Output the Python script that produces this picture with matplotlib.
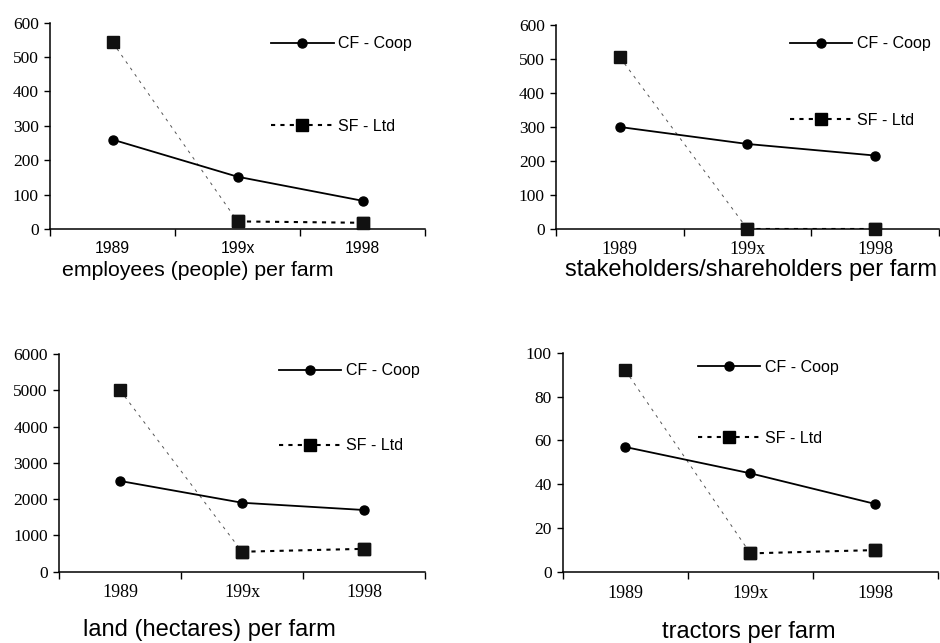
import matplotlib.pyplot as plt
import numpy as np

years = ['1989', '199x', '1998']

employees_cf = [260, 152, 82]
employees_sf = [543, 22, 18]
stakeholders_cf = [300, 250, 216]
stakeholders_sf = [505, 0, 0]
land_cf = [2500, 1900, 1700]
land_sf = [5000, 550, 630]
tractors_cf = [57, 45, 31]
tractors_sf = [92, 8.5, 10]

titles = ['employees (people) per farm', 'stakeholders/shareholders per farm',
          'land (hectares) per farm', 'tractors per farm']

SERIF = 'Liberation Serif'
SANS = 'Liberation Sans'

# layout per panel: axes rect, y limit, y step, legend anchors, title pos, fonts
panels = [
    dict(cf=employees_cf, sf=employees_sf, rect=[0.0532, 0.6439, 0.399, 0.3208],
         ymax=600, step=100, lx=0.59, ly=(0.897, 0.499), tx=0.395, ty=-0.20, tsize=15.3,
         xfont=SANS, xsize=11.3),
    dict(cf=stakeholders_cf, sf=stakeholders_sf, rect=[0.5915, 0.6439, 0.4074, 0.3172],
         ymax=600, step=100, lx=0.61, ly=(0.907, 0.534), tx=0.51, ty=-0.20, tsize=17,
         xfont=SERIF, xsize=13),
    dict(cf=land_cf, sf=land_sf, rect=[0.0628, 0.1109, 0.3894, 0.3386],
         ymax=6000, step=1000, lx=0.60, ly=(0.923, 0.579), tx=0.41, ty=-0.266, tsize=17,
         xfont=SERIF, xsize=13),
    dict(cf=tractors_cf, sf=tractors_sf, rect=[0.5986, 0.1104, 0.3993, 0.3411],
         ymax=100, step=20, lx=0.36, ly=(0.933, 0.61), tx=0.497, ty=-0.274, tsize=17,
         xfont=SERIF, xsize=13),
]

fig = plt.figure(figsize=(9.4, 6.43), dpi=100)

for p, title in zip(panels, titles):
    ax = fig.add_axes(p['rect'])
    x = np.arange(len(years))
    cf = np.array(p['cf'], dtype=float)
    sf = np.array(p['sf'], dtype=float)

    h_cf, = ax.plot(x, cf, color='black', lw=1.3, marker='o', ms=6.5, zorder=4)
    # first drop drawn thin grey dashed, later part black dotted
    ax.plot(x[:2], sf[:2], color='#555555', lw=0.7, ls=(0, (3, 5)), zorder=3)
    h_sf, = ax.plot(x[1:], sf[1:], color='black', lw=1.5, ls=(0, (2, 2.5)),
                    marker='s', ms=8.5, zorder=3)
    ax.plot(x, sf, ls='none', marker='s', ms=8.5, color='#111111', zorder=5, clip_on=False)

    ax.set_xlim(-0.5, 2.5)
    ax.set_ylim(0, p['ymax'])
    ax.set_yticks(np.arange(0, p['ymax'] + 1, p['step']))
    ax.set_xticks(x)
    ax.set_xticklabels(years)
    ax.set_xticks([-0.5, 0.5, 1.5, 2.5], minor=True)
    ax.tick_params(axis='x', which='major', length=0, pad=9,
                   labelfontfamily=p['xfont'], labelsize=p['xsize'])
    ax.tick_params(axis='x', which='minor', length=5, width=1, direction='out')
    ax.tick_params(axis='y', length=4, width=1, direction='out', pad=4,
                   labelfontfamily=SERIF, labelsize=12.5)
    for s in ['top', 'right']:
        ax.spines[s].set_visible(False)
    for s in ['left', 'bottom']:
        ax.spines[s].set_linewidth(1.1)

    kw = dict(loc='center left', frameon=False, borderpad=0, borderaxespad=0,
              handlelength=3.9, handletextpad=0.3, prop={'family': SANS, 'size': 11.5})
    leg1 = ax.legend([h_cf], ['CF - Coop'], bbox_to_anchor=(p['lx'], p['ly'][0]), **kw)
    ax.add_artist(leg1)
    ax.legend([h_sf], ['SF - Ltd'], bbox_to_anchor=(p['lx'], p['ly'][1]), **kw)

    ax.text(p['tx'], p['ty'], title, transform=ax.transAxes, ha='center', va='center',
            fontsize=p['tsize'], fontfamily=SANS)

fig.savefig('out.png', dpi=100)
